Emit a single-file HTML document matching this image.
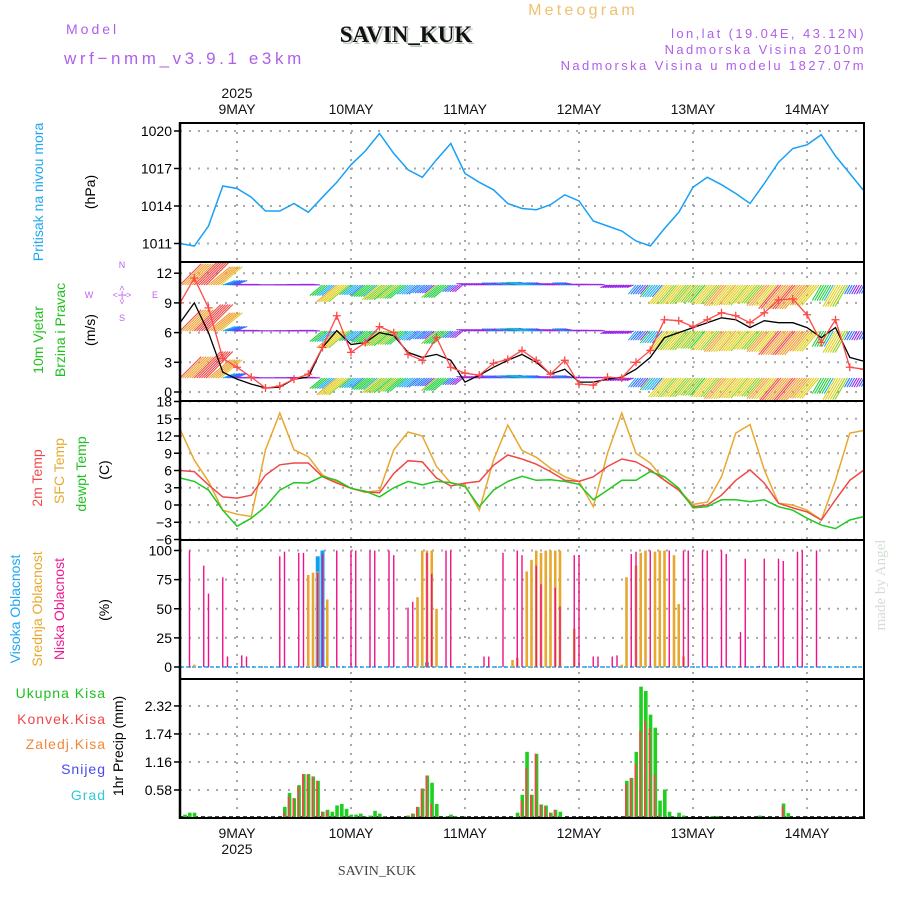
<!DOCTYPE html>
<html><head><meta charset="utf-8"><style>
html,body{margin:0;padding:0;background:#fff;}
svg{display:block;font-family:"Liberation Sans",sans-serif;}
</style></head><body>
<svg id="chart" width="900" height="900" viewBox="0 0 900 900" xmlns="http://www.w3.org/2000/svg">
<defs>
<clipPath id="cp-wind"><rect x="180" y="263" width="684" height="138"/></clipPath>
<clipPath id="cp-temp"><rect x="180" y="402" width="684" height="138"/></clipPath>
</defs>
<rect width="900" height="900" fill="#fff"/>
<text x="66" y="34" fill="#b060e8" font-size="14" letter-spacing="3">Model</text>
<text x="64" y="64" fill="#b060e8" font-size="17" letter-spacing="3.6">wrf−nmm_v3.9.1 e3km</text>
<text x="408" y="44" fill="#b8c8b8" font-family="Liberation Serif,serif" font-weight="bold" font-size="23" text-anchor="middle">SAVIN_KUK</text>
<text x="406" y="42" fill="#111" font-family="Liberation Serif,serif" font-weight="bold" font-size="23" text-anchor="middle">SAVIN_KUK</text>
<text x="583" y="15" fill="#f0c070" font-size="16" letter-spacing="3.2" text-anchor="middle">Meteogram</text>
<text x="866" y="38" fill="#b060e8" font-size="13" letter-spacing="2.4" text-anchor="end">lon,lat (19.04E, 43.12N)</text>
<text x="866" y="54" fill="#b060e8" font-size="13" letter-spacing="2.4" text-anchor="end">Nadmorska Visina 2010m</text>
<text x="866" y="70" fill="#b060e8" font-size="13" letter-spacing="2.4" text-anchor="end">Nadmorska Visina u modelu 1827.07m</text>
<text x="377" y="875" fill="#444" font-family="Liberation Serif,serif" font-size="14" text-anchor="middle">SAVIN_KUK</text>
<text transform="translate(885,585) rotate(-90)" fill="#d4ddd4" font-family="Liberation Serif,serif" font-size="15" text-anchor="middle">made by Angel</text>

<text transform="translate(43,192) rotate(-90)" fill="#20a8f0" font-size="14" text-anchor="middle">Pritisak na nivou mora</text>
<text transform="translate(95,192) rotate(-90)" fill="#000" font-size="14" text-anchor="middle">(hPa)</text>
<text transform="translate(43,340) rotate(-90)" fill="#20c020" font-size="14" text-anchor="middle">10m Vjetar</text>
<text transform="translate(65,330) rotate(-90)" fill="#20c020" font-size="14" text-anchor="middle">Brzina i Pravac</text>
<text transform="translate(95,330) rotate(-90)" fill="#000" font-size="14" text-anchor="middle">(m/s)</text>
<g fill="#c060f0" font-size="9" text-anchor="middle">
<text x="122" y="268">N</text><text x="122" y="321">S</text><text x="89" y="298">W</text><text x="155" y="298">E</text>
<text x="122" y="298">&lt;-|-&gt;</text>
<text transform="translate(125,295) rotate(-90)">&lt;-|-&gt;</text>
</g>
<text transform="translate(42,478) rotate(-90)" fill="#f04848" font-size="14" text-anchor="middle">2m Temp</text>
<text transform="translate(64,471) rotate(-90)" fill="#e8a830" font-size="14" text-anchor="middle">SFC Temp</text>
<text transform="translate(86,474) rotate(-90)" fill="#20c020" font-size="14" text-anchor="middle">dewpt Temp</text>
<text transform="translate(109,470) rotate(-90)" fill="#000" font-size="14" text-anchor="middle">(C)</text>
<text transform="translate(20,609) rotate(-90)" fill="#20a8f0" font-size="14" text-anchor="middle">Visoka Oblacnost</text>
<text transform="translate(42,609) rotate(-90)" fill="#e8a830" font-size="14" text-anchor="middle">Srednja Oblacnost</text>
<text transform="translate(64,609) rotate(-90)" fill="#f01890" font-size="14" text-anchor="middle">Niska Oblacnost</text>
<text transform="translate(109,610) rotate(-90)" fill="#000" font-size="14" text-anchor="middle">(%)</text>
<g font-size="14" text-anchor="end" letter-spacing="1">
<text x="106" y="698" fill="#20c020">Ukupna  Kisa</text>
<text x="106" y="724" fill="#f04848">Konvek.Kisa</text>
<text x="106" y="749" fill="#f08838">Zaledj.Kisa</text>
<text x="106" y="774" fill="#4848f0">Snijeg</text>
<text x="106" y="800" fill="#30c8d8">Grad</text>
</g>
<text transform="translate(123,746) rotate(-90)" fill="#000" font-size="14" text-anchor="middle">1hr Precip (mm)</text>

<g id="grid"></g>
<g id="marks"></g>
<g id="frame"></g>
</svg>
<script>
// ---- data (3-hourly, hours from 8 May 12Z) ----
const hours3 = [0,3,6,9,12,15,18,21,24,27,30,33,36,39,42,45,48,51,54,57,60,63,66,69,72,75,78,81,84,87,90,93,96,99,102,105,108,111,114,117,120,123,126,129,132,135,138,141,144];
const pressure = [1011.0,1010.8,1012.4,1015.6,1015.4,1014.7,1013.6,1013.6,1014.2,1013.5,1014.7,1015.9,1017.3,1018.4,1019.8,1018.2,1016.9,1016.3,1017.7,1019.0,1016.6,1015.9,1015.3,1014.2,1013.8,1013.7,1014.1,1014.9,1014.4,1012.8,1012.4,1012.0,1011.2,1010.8,1012.2,1013.5,1015.5,1016.3,1015.7,1015.0,1014.2,1015.8,1017.5,1018.6,1018.9,1019.7,1018.0,1016.6,1015.2];
const windSpeed = [9.0,11.5,8.5,3.4,2.5,1.5,0.4,0.6,1.3,1.8,4.5,7.7,4.0,5.0,6.6,6.0,3.8,3.2,5.5,2.5,1.9,1.7,2.9,3.3,4.2,3.2,1.8,3.2,0.8,0.7,1.5,1.4,3.0,4.2,7.3,7.2,6.6,7.3,8.0,7.7,7.0,8.0,9.3,9.4,7.8,5.0,7.3,2.5,2.3];
const windSpeed2 = [7.0,9.0,6.0,2.0,1.3,0.8,0.4,0.5,1.3,1.5,4.5,6.2,4.8,5.0,6.0,5.7,4.0,3.5,3.8,3.2,1.0,1.7,2.5,3.2,3.8,3.0,1.8,2.3,1.0,1.0,1.3,1.5,2.3,3.5,5.5,6.0,6.5,7.0,7.5,7.3,6.5,7.2,7.0,7.0,6.5,5.5,6.5,3.5,3.1];
const windDir = [225,225,230,250,95,95,95,95,95,95,50,50,50,50,50,50,50,50,50,50,100,100,100,100,100,100,100,100,100,100,70,70,40,40,40,40,40,40,40,40,40,40,40,40,40,30,30,30,30];
const temp2m = [6.0,5.8,3.5,1.4,1.2,1.7,5.2,7.0,7.3,7.3,4.9,3.8,2.9,2.3,2.1,5.5,7.7,7.5,4.7,3.3,3.8,4.1,6.9,8.7,8.0,7.1,5.8,4.3,4.1,4.9,6.7,8.0,7.5,6.1,4.3,2.6,-0.3,0.0,1.7,4.3,6.1,3.8,0.3,-0.5,-1.2,-2.6,0.9,4.3,6.1];
const tempSfc = [13.2,7.8,4.1,-0.9,-1.6,-2.0,9.6,16.0,9.6,8.4,5.2,4.0,2.9,2.2,2.5,9.6,12.7,12.0,6.7,3.8,3.5,-0.9,7.8,13.9,9.5,8.3,6.4,4.9,4.1,-0.3,9.0,16.0,9.0,7.3,4.3,2.6,0.1,0.5,4.9,12.5,14.0,6.1,0.3,0.0,-0.9,-2.6,4.3,12.5,13.0];
const dewpt = [4.7,4.1,2.6,-0.9,-3.7,-2.3,-0.3,2.6,3.9,3.8,5.0,4.3,2.9,2.4,1.4,3.0,4.1,3.5,4.1,3.9,3.2,-0.3,2.6,4.1,5.0,4.3,4.4,4.1,3.6,0.9,2.6,4.3,4.3,5.8,4.9,2.9,-0.5,-0.3,0.9,0.9,0.6,0.9,-0.3,-0.9,-2.3,-3.5,-4.1,-2.6,-2.0];
// cloud cover (%)
const lowHours = [2,5,6,9,10,13,14,21,22,25,26,29,30,33,36,37,40,41,44,45,48,49,52,53,56,57,64,65,68,71,72,75,76,79,80,83,84,87,88,91,92,95,96,99,103,106,107,110,111,114,115,118,119,122,123,126,127,130,131,134];
const lowVals  = [100,87,63,77,9,10,9,95,99,98,98,81,97,100,100,100,100,100,100,96,51,56,98,80,100,100,9,9,98,100,96,87,71,68,52,96,96,9,9,9,10,97,99,100,100,100,100,100,100,100,97,30,93,1,93,93,91,99,100,100];
const midHours = [3,27,28,29,31,50,51,52,53,54,70,71,73,74,75,76,77,78,79,80,83,93,94,96,97,98,100,101,102,104,105,106];
const midVals  = [2,79,81,82,58,60,100,100,100,50,6,8,82,92,100,98,100,100,100,100,33,2,77,87,98,100,99,100,100,96,54,9];
const highHours = [29,30,52];
const highVals  = [95,100,4];
// precipitation (mm/h)
const rainHours = [1,2,3,6,22,23,24,25,26,27,28,29,30,31,32,33,34,35,36,37,38,39,40,41,42,43,48,49,50,51,52,53,54,56,57,58,71,72,73,74,75,76,77,78,79,80,94,95,96,97,98,99,100,101,102,103,104,105,106,112,113,122,127,128];
const rainTotal = [0.07,0.11,0.11,0.03,0.23,0.52,0.41,0.68,0.91,0.91,0.86,0.77,0.13,0.17,0.13,0.26,0.29,0.19,0.07,0.07,0.09,0.03,0.05,0.15,0.09,0.03,0.05,0.09,0.23,0.61,0.88,0.73,0.29,0.03,0.07,0.03,0.11,0.48,1.37,0.48,1.33,0.28,0.26,0.11,0.17,0.13,0.77,0.83,1.37,2.72,2.63,2.14,1.87,0.36,0.59,0.13,0.03,0.11,0.05,0.04,0.04,0.05,0.30,0.10];
const rainConv  = [0,0,0,0,0.12,0.45,0.41,0.66,0.91,0.90,0.86,0.77,0.13,0.15,0,0,0,0,0,0,0,0,0,0,0,0,0.02,0.09,0.23,0.61,0.88,0.29,0,0,0,0,0.01,0.36,1.04,0.48,1.33,0.28,0.24,0.11,0.17,0,0.70,0.83,1.12,1.81,2.01,1.86,0.90,0.07,0,0,0,0,0,0,0,0,0.25,0];
// tick labels
const pressTicks = [1011,1014,1017,1020];
const windTicks = [0,3,6,9,12];
const tempTicks = [-6,-3,0,3,6,9,12,15,18];
const cloudTicks = [0,25,50,75,100];
const precipTicks = [0.58,1.16,1.74,2.32];
const dayHours = [12,36,60,84,108,132];
const dayLabels = ["9MAY","10MAY","11MAY","12MAY","13MAY","14MAY"];

// ---- scales ----
const X = t => 180 + t*4.75;
const Yp = p => 131 + (1020-p)*12.5;
const Yw = v => 392 - v*9.9;
const Yt = v => 505 - v*5.75;
const Yc = v => 667 - v*1.165;
const Yr = v => 818 - v*48.3;

const NS = "http://www.w3.org/2000/svg";
function mk(tag, attrs, parent){
  const e = document.createElementNS(NS, tag);
  for (const k in attrs) e.setAttribute(k, attrs[k]);
  parent.appendChild(e); return e;
}
const grid = document.getElementById('grid');
const marks = document.getElementById('marks');
const frame = document.getElementById('frame');

dayHours.forEach((h,i)=>{
  const l = mk('line',{x1:X(h),x2:X(h),y1:123,y2:818,stroke:'#a8a8a8','stroke-width':2,'stroke-dasharray':'2,7'},grid);
  
  
  const tt = mk('text',{x:X(h),y:114,'font-size':14,'text-anchor':'middle',fill:'#111'},frame);
  tt.textContent = dayLabels[i];
  
  
  const bt = mk('text',{x:X(h),y:838,'font-size':14,'text-anchor':'middle',fill:'#111'},frame);
  bt.textContent = dayLabels[i];
  
  
});
const y1 = mk('text',{x:X(12),y:98,'font-size':14,'text-anchor':'middle',fill:'#111'},frame);
y1.textContent='2025';


const y2 = mk('text',{x:X(12),y:854,'font-size':14,'text-anchor':'middle',fill:'#111'},frame);
y2.textContent='2025';



function hTicks(ticks, yf, name, fmt){
  ticks.forEach(v=>{
    const y = yf(v);
    const g = mk('line',{x1:180,x2:864,y1:y,y2:y,stroke:'#a8a8a8','stroke-width':2,'stroke-dasharray':'2,7'},grid);
    
    
    mk('line',{x1:174,x2:180,y1:y,y2:y,stroke:'#000','stroke-width':1.5},frame);
    const t = mk('text',{x:172,y:y+5,'font-size':14,'text-anchor':'end',fill:'#000'},frame);
    t.textContent = fmt ? fmt(v) : String(v).replace('-','−');
    
    
  });
}
hTicks(pressTicks, Yp, 'pressure');
hTicks(windTicks, Yw, 'wind');
hTicks(tempTicks, Yt, 'temp');
hTicks(cloudTicks, Yc, 'cloud');
hTicks(precipTicks, Yr, 'precip', v=>v.toFixed(2));

function path(vals, yf){
  return vals.map((v,i)=>(i?'L':'M')+X(hours3[i]).toFixed(1)+','+yf(v).toFixed(1)).join(' ');
}
const pl = mk('path',{d:path(pressure,Yp),fill:'none',stroke:'#18a0f8','stroke-width':1.5},marks);



// wind barbs
const windG = mk('g',{'clip-path':'url(#cp-wind)'},marks);


function spdColor(s){
  if (s<2) return '#9a28e8';
  if (s<3) return '#3070ff';
  if (s<4) return '#20b0e8';
  if (s<5.5) return '#20d040';
  if (s<6.5) return '#90d020';
  if (s<7.5) return '#e0d020';
  if (s<9) return '#f0a030';
  return '#f04848';
}
const levels = [285,331,378];
hours3.forEach((h,i)=>{
  const s = windSpeed[i];
  const tow = (windDir[i]+180)*Math.PI/180;
  const L = 3.0*s + 3;
  levels.forEach(yb=>{
    for (let k=0;k<6;k++){
      const x0 = X(h) + k*2.4;
      const ln = mk('line',{x1:x0,y1:yb,x2:x0+Math.sin(tow)*L,y2:yb-Math.cos(tow)*L,stroke:spdColor(s-k*0.25),'stroke-width':1.1},windG);
      
      
    }
  });
});
const wl2 = mk('path',{d:path(windSpeed2,Yw),fill:'none',stroke:'#000','stroke-width':1.3},windG);


const wl = mk('path',{d:path(windSpeed,Yw),fill:'none',stroke:'#ff4848','stroke-width':1.3},windG);


windSpeed.forEach((v,i)=>{
  const x=X(hours3[i]), y=Yw(v);
  const p = mk('path',{d:`M${x-4},${y}H${x+4}M${x},${y-4}V${y+4}`,stroke:'#ff4848','stroke-width':1.3},windG);
  
  
});

// temperature
const tg = mk('g',{'clip-path':'url(#cp-temp)'},marks);
[[tempSfc,'#e8a830','temp-sfc-line'],[temp2m,'#f04848','temp-2m-line'],[dewpt,'#20c820','dewpoint-line']].forEach(([arr,c,n])=>{
  const e = mk('path',{d:path(arr,Yt),fill:'none',stroke:c,'stroke-width':1.5},tg);
  
  
});

// cloud bars
const cb = mk('line',{x1:180,x2:864,y1:667,y2:667,stroke:'#20a8f0','stroke-width':1.5,'stroke-dasharray':'4,2'},marks);


function cloudBars(hs, vs, color, w, name){
  hs.forEach((h,i)=>{
    const y = Yc(vs[i]);
    const r = mk('rect',{x:X(h)-w/2,y:y,width:w,height:667-y,fill:color},marks);
    
    
  });
}
cloudBars(highHours, highVals, '#10a0f0', 4, 'cloud-high-bar');
cloudBars(midHours, midVals, '#e8a830', 2.6, 'cloud-mid-bar');
cloudBars(lowHours, lowVals, '#f0108a', 1.4, 'cloud-low-bar');

// precipitation bars
const pb = mk('line',{x1:180,x2:864,y1:817,y2:817,stroke:'#000','stroke-width':1.5,'stroke-dasharray':'4,3'},marks);


rainHours.forEach((h,i)=>{
  const y = Yr(rainTotal[i]);
  const r = mk('rect',{x:X(h)-1.5,y:y,width:3.6,height:818-y,fill:'#20d020'},marks);
  
  
  if (rainConv[i]>0){
    const yc = Yr(rainConv[i]);
    const c = mk('rect',{x:X(h)-1.5,y:yc,width:1.8,height:818-yc,fill:'#f04848'},marks);
    
    
  }
});

// panel frames
[123,262,401,540,679,818].forEach(y=>{
  mk('line',{x1:179,x2:865,y1:y,y2:y,stroke:'#000','stroke-width':2},frame);
});
mk('line',{x1:180,x2:180,y1:122,y2:819,stroke:'#000','stroke-width':2.5},frame);
mk('line',{x1:864,x2:864,y1:122,y2:819,stroke:'#000','stroke-width':2},frame);
</script>
</body></html>
